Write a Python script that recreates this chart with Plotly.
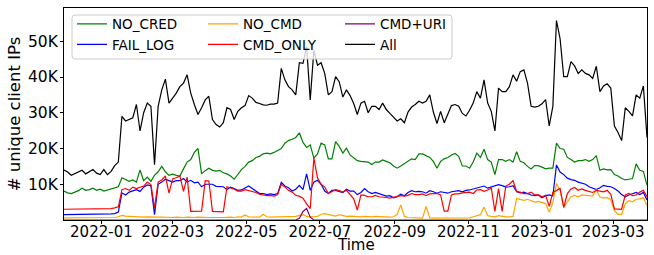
import pandas as pd
import plotly.graph_objects as go

# sampled every 3 days starting 2021-12-01 (values in thousands of unique IPs)
dates = pd.date_range("2021-12-01", periods=162, freq="3D")

all_k = [14.0, 13.4, 12.5, 12.9, 13.4, 13.9, 12.9, 13.4, 14.1, 13.1, 12.7, 14.1, 12.7, 13.6, 15.2, 16.2,
         29.0, 27.7, 28.1, 28.6, 32.3, 24.9, 30.0, 32.7, 31.8, 15.5, 31.8, 36.4, 39.4, 32.7, 34.1, 35.5,
         37.3, 38.3, 40.6, 35.5, 32.3, 29.5, 31.4, 33.6, 34.6, 28.1, 26.7, 26.0, 27.2, 31.4, 30.9, 28.1,
         30.4, 31.4, 32.0, 34.8, 34.1, 32.9, 32.6, 32.2, 32.1, 32.4, 32.4, 32.7, 42.4, 39.2, 37.3, 36.4,
         35.0, 44.0, 43.8, 48.5, 33.6, 47.5, 43.3, 44.0, 41.0, 35.0, 35.9, 40.1, 38.7, 34.4, 36.4, 34.8,
         32.6, 29.5, 32.7, 33.2, 30.0, 31.8, 31.8, 30.9, 32.7, 30.9, 29.8, 28.6, 27.7, 28.3, 27.2, 30.2,
         31.6, 32.3, 33.2, 32.7, 33.2, 35.0, 30.2, 27.0, 30.4, 27.2, 29.5, 32.0, 32.3, 31.8, 29.8, 29.1,
         30.7, 32.7, 35.9, 34.1, 39.2, 32.7, 30.4, 24.9, 36.9, 35.9, 35.9, 37.3, 40.6, 38.8, 41.5, 42.0,
         38.3, 31.8, 31.6, 31.8, 32.5, 33.7, 26.3, 31.8, 55.8, 50.7, 40.1, 40.1, 44.3, 43.1, 41.0, 42.0,
         41.0, 40.6, 39.6, 43.0, 35.9, 37.5, 38.1, 36.9, 26.3, 24.5, 22.2, 31.4, 30.4, 29.1, 35.0, 34.1,
         37.5, 23.1]

no_cred_k = [8.1, 7.6, 7.4, 7.8, 8.2, 8.9, 8.3, 8.5, 8.9, 8.3, 8.6, 8.1, 8.4, 8.6, 8.9, 9.3,
             11.8, 11.3, 10.8, 11.2, 10.6, 14.0, 11.0, 12.0, 10.8, 12.5, 13.5, 15.0, 13.5, 12.5, 12.8, 12.5,
             12.3, 14.3, 16.2, 16.9, 18.9, 20.0, 12.9, 13.8, 14.5, 13.9, 13.7, 13.9, 13.2, 12.9, 12.3, 11.4,
             12.9, 14.1, 15.0, 16.2, 16.6, 17.5, 17.8, 18.5, 18.7, 18.5, 18.9, 19.4, 20.0, 21.5, 22.2, 22.6,
             23.1, 24.4, 21.7, 20.3, 21.0, 17.3, 18.5, 21.5, 21.0, 17.1, 17.1, 21.9, 20.6, 18.7, 20.1, 18.2,
             17.3, 16.6, 16.4, 16.2, 16.2, 15.5, 16.2, 16.2, 16.8, 16.4, 16.0, 15.1, 14.5, 15.1, 15.7, 16.4,
             17.1, 16.9, 18.5, 18.5, 18.0, 17.5, 16.4, 14.5, 16.4, 17.1, 17.5, 18.2, 18.6, 17.8, 15.1, 15.1,
             14.5, 16.2, 18.7, 17.5, 19.8, 16.9, 16.2, 12.7, 16.9, 16.9, 16.4, 16.9, 16.2, 19.1, 16.4, 16.0,
             15.0, 14.3, 15.2, 15.2, 14.8, 14.3, 14.5, 14.5, 21.5, 20.0, 19.8, 17.5, 16.9, 16.2, 16.6, 16.6,
             16.9, 16.4, 16.9, 18.0, 13.9, 14.3, 14.0, 14.1, 12.7, 12.3, 11.6, 11.2, 11.4, 11.6, 15.7, 13.9,
             13.6, 9.7]

fail_log_k = [1.5, 1.5, 1.5, 1.5, 1.6, 1.5, 1.5, 1.5, 1.6, 1.5, 1.5, 1.6, 1.6, 1.7, 1.8, 2.2,
              7.6, 7.0, 7.8, 8.1, 8.5, 8.0, 9.2, 9.8, 9.6, 1.5, 10.0, 10.6, 11.4, 11.0, 10.6, 11.0,
              11.0, 11.6, 10.6, 11.1, 10.4, 10.6, 9.3, 10.0, 9.9, 10.0, 9.4, 9.3, 9.3, 8.5, 9.2, 8.8,
              8.3, 8.4, 9.0, 9.5, 8.8, 8.1, 7.4, 7.4, 7.1, 7.3, 7.1, 7.4, 10.5, 9.5, 9.0, 8.1,
              8.6, 9.7, 8.5, 12.9, 8.3, 10.6, 11.1, 10.0, 8.1, 7.4, 8.3, 8.3, 7.9, 7.7, 8.6, 8.1,
              8.1, 7.1, 7.7, 8.8, 7.9, 7.4, 7.7, 7.4, 7.0, 6.7, 6.8, 6.2, 6.5, 7.2, 6.8, 7.7,
              8.2, 7.9, 8.0, 7.9, 7.5, 8.2, 7.9, 7.5, 7.9, 7.8, 7.5, 7.9, 8.1, 8.2, 7.9, 8.3,
              8.4, 8.7, 8.8, 9.1, 9.5, 8.9, 9.2, 9.4, 9.9, 9.6, 9.2, 9.3, 9.6, 8.0, 7.6, 7.8,
              7.3, 7.0, 6.8, 7.0, 6.2, 6.8, 7.0, 6.7, 15.4, 13.4, 12.7, 11.7, 11.3, 11.1, 10.6, 10.2,
              10.0, 9.3, 8.8, 8.5, 9.0, 9.7, 9.4, 9.3, 8.8, 8.1, 7.1, 6.5, 7.0, 7.4, 7.7, 7.1,
              7.7, 5.6]

no_cmd_k = [0.6, 0.6, 0.6, 0.6, 0.6, 0.6, 0.6, 0.6, 0.6, 0.6, 0.6, 0.6, 0.6, 0.7, 0.7, 0.9,
            1.3, 1.1, 1.0, 0.9, 0.9, 0.8, 0.8, 0.9, 0.8, 0.7, 0.8, 0.8, 0.7, 0.8, 0.7, 0.8,
            0.7, 0.7, 0.8, 0.7, 0.7, 0.8, 0.7, 0.8, 0.7, 0.7, 0.8, 0.7, 0.7, 0.8, 0.8, 0.7,
            0.9, 0.8, 1.4, 0.9, 0.8, 0.9, 0.8, 1.6, 0.9, 0.8, 0.8, 0.9, 0.9, 0.9, 0.8, 0.9,
            1.0, 1.3, 1.5, 1.0, 0.9, 0.9, 1.0, 1.6, 1.8, 1.5, 1.2, 1.1, 1.5, 1.2, 1.0, 1.1,
            1.0, 1.1, 0.9, 1.0, 0.9, 0.9, 1.0, 0.9, 0.8, 0.8, 0.8, 0.9, 1.5, 4.2, 1.0, 0.7,
            0.6, 0.6, 0.6, 0.5, 3.8, 0.6, 0.5, 0.5, 0.5, 0.5, 0.4, 0.4, 0.5, 0.5, 0.6, 0.5,
            0.6, 0.9, 1.2, 1.5, 3.6, 1.2, 1.0, 0.9, 1.2, 1.0, 0.9, 0.9, 1.0, 6.0, 5.8, 5.5,
            5.8, 5.4, 5.0, 5.2, 5.0, 4.6, 2.2, 4.9, 10.2, 8.2, 3.6, 5.0, 6.5, 6.9, 6.5, 7.0,
            6.9, 6.9, 6.7, 8.5, 6.4, 6.1, 6.3, 5.6, 2.6, 1.6, 1.6, 4.5, 5.4, 5.1, 5.8, 5.9,
            6.2, 4.0]

cmd_only_k = [3.0, 3.0, 3.0, 3.0, 3.0, 3.0, 3.0, 3.0, 3.0, 3.0, 3.0, 3.0, 3.1, 3.2, 3.4, 3.7,
              8.5, 8.8, 8.3, 9.2, 8.8, 9.2, 9.5, 10.6, 9.9, 3.3, 10.6, 11.2, 12.3, 7.5, 11.5, 11.8,
              12.3, 8.0, 12.0, 2.4, 2.4, 2.4, 2.5, 11.0, 10.9, 2.4, 2.3, 2.3, 2.3, 9.3, 9.0, 8.6,
              8.1, 8.1, 8.5, 8.3, 8.1, 7.7, 7.2, 6.9, 6.8, 6.9, 6.7, 7.1, 10.0, 9.2, 8.3, 7.8,
              6.9, 6.6, 6.1, 4.5, 3.2, 17.3, 11.8, 10.0, 9.2, 7.4, 8.0, 8.5, 8.2, 7.8, 8.3, 7.2,
              5.9, 2.8, 7.0, 6.9, 6.5, 6.5, 6.9, 6.5, 6.5, 6.3, 6.1, 6.3, 6.5, 6.8, 6.7, 6.9,
              7.4, 7.1, 7.1, 7.3, 6.8, 7.3, 7.4, 7.4, 7.0, 2.5, 2.5, 7.0, 7.3, 7.3, 7.6, 7.7,
              7.8, 7.4, 8.4, 8.5, 8.0, 8.4, 8.9, 2.4, 8.8, 2.4, 9.5, 10.0, 11.0, 7.9, 7.8, 7.4,
              7.4, 7.8, 7.0, 7.0, 6.5, 6.9, 3.8, 7.7, 8.3, 8.8, 3.5, 7.4, 8.7, 9.1, 8.3, 8.7,
              8.3, 7.9, 7.7, 8.3, 8.1, 7.9, 8.3, 7.2, 3.1, 3.1, 3.0, 7.0, 7.4, 6.8, 7.0, 7.8,
              8.3, 6.5]

cmd_uri_k = [0.0] * 65 + [0.5, 2.4, 3.2, 0.8] + [0.0] * 93

series_names = ["NO_CRED", "FAIL_LOG", "NO_CMD", "CMD_ONLY", "CMD+URI", "All"]
series_vals = [no_cred_k, fail_log_k, no_cmd_k, cmd_only_k, cmd_uri_k, all_k]
series_colors = ["green", "blue", "orange", "red", "purple", "black"]
series_legend = ["legend", "legend", "legend2", "legend2", "legend3", "legend3"]

ytick_vals = [10000, 20000, 30000, 40000, 50000]
ytick_text = ["10K", "20K", "30K", "40K", "50K"]

FONT = "DejaVu Sans"

fig = go.Figure()
for name, vals, col, lg in zip(series_names, series_vals, series_colors, series_legend):
    fig.add_trace(go.Scatter(
        x=dates, y=[v * 1000 for v in vals], mode="lines", name=name,
        line=dict(color=col, width=1.2), legend=lg,
    ))

W, H = 654, 255
L, R, T, B = 64, 7, 8, 35
pw, ph = W - L - R, H - T - B

def px_x(px):
    return (px - L) / pw

def px_y(py):
    return 1 - (py - T) / ph

# legend frame (rounded)
x0, x1 = px_x(72), px_x(452)
y0, y1 = px_y(59), px_y(15)
rx, ry = 3 / pw, 3 / ph
path = (f"M {x0+rx},{y1} L {x1-rx},{y1} Q {x1},{y1} {x1},{y1-ry} "
        f"L {x1},{y0+ry} Q {x1},{y0} {x1-rx},{y0} L {x0+rx},{y0} "
        f"Q {x0},{y0} {x0},{y0+ry} L {x0},{y1-ry} Q {x0},{y1} {x0+rx},{y1} Z")

leg_common = dict(orientation="v", xanchor="left", yanchor="top",
                  bgcolor="rgba(0,0,0,0)", borderwidth=0,
                  font=dict(family=FONT, size=13.5, color="black"))

fig.update_layout(
    template="none",
    width=W, height=H,
    margin=dict(l=L, r=R, t=T, b=B, autoexpand=False),
    paper_bgcolor="white", plot_bgcolor="white",
    font=dict(family=FONT, size=15, color="black"),
    showlegend=True,
    legend=dict(x=px_x(72), y=px_y(8.5), **leg_common),
    legend2=dict(x=px_x(203), y=px_y(8.5), **leg_common),
    legend3=dict(x=px_x(340), y=px_y(8.5), **leg_common),
    shapes=[dict(type="path", path=path, xref="paper", yref="paper",
                 line=dict(color="#cccccc", width=1),
                 fillcolor="rgba(255,255,255,0.8)", layer="above")],
    annotations=[dict(text="Time", xref="paper", yref="paper", x=0.5, y=px_y(254.5),
                      xanchor="center", yanchor="bottom", showarrow=False, borderpad=0,
                      font=dict(family=FONT, size=15, color="black"))],
    xaxis=dict(
        range=[dates[0], dates[-1]], type="date",
        tick0="2022-01-01", dtick="M2", tickformat="%Y-%m",
        showgrid=False, zeroline=False, automargin=False,
        showline=True, linecolor="black", linewidth=1, mirror=True,
        ticks="outside", ticklen=3, tickwidth=1, tickcolor="black",
        ticklabelstandoff=-5,
        tickfont=dict(family=FONT, size=15, color="black"),
    ),
    yaxis=dict(
        range=[0, 59300],
        tickvals=ytick_vals, ticktext=ytick_text,
        showgrid=False, zeroline=False, automargin=False,
        showline=True, linecolor="black", linewidth=1, mirror=True,
        ticks="outside", ticklen=3, tickwidth=1, tickcolor="black",
        ticklabelstandoff=-1,
        tickfont=dict(family=FONT, size=15.5, color="black"),
        title=dict(text="# unique client IPs", font=dict(family=FONT, size=16.5, color="black"),
                   standoff=3),
    ),
)

fig.write_html(
    "out.html",
    config={"displayModeBar": False},
    post_script="document.body.style.margin='0px';document.body.style.overflow='hidden';",
)
